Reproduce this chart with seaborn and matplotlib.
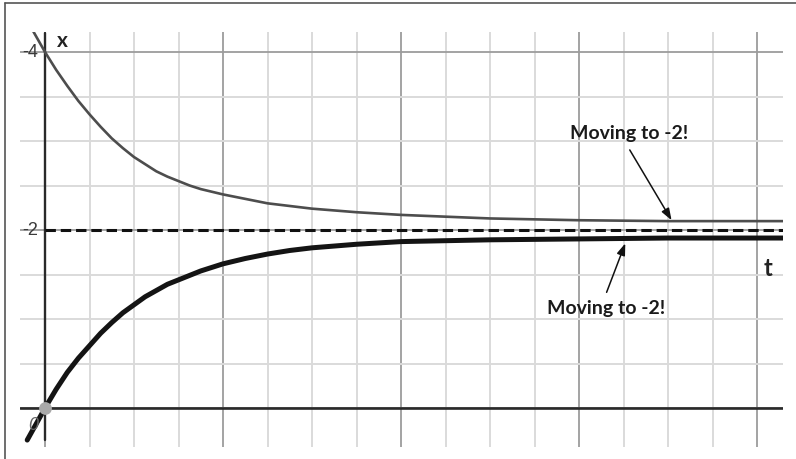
import matplotlib
matplotlib.use("Agg")
import matplotlib.pyplot as plt
from matplotlib.lines import Line2D
import numpy as np
import seaborn as sns

# Solution starting above the equilibrium (x(0) = -4)
t_upper = [-0.25, -0.125, 0.0, 0.125, 0.25, 0.375, 0.5, 0.625, 0.75, 0.875, 1.0,
           1.125, 1.25, 1.375, 1.5, 1.625, 1.75, 1.875, 2.0, 2.25, 2.5, 2.75, 3.0,
           3.25, 3.5, 3.75, 4.0, 4.5, 5.0, 5.5, 6.0, 7.0, 8.4]
x_upper = [-4.45, -4.22, -4.00, -3.80, -3.62, -3.45, -3.30, -3.16, -3.03, -2.92, -2.82,
           -2.74, -2.66, -2.60, -2.55, -2.50, -2.46, -2.43, -2.40, -2.35, -2.30, -2.27, -2.24,
           -2.22, -2.20, -2.185, -2.17, -2.15, -2.13, -2.12, -2.11, -2.10, -2.10]

# Solution starting below the equilibrium (x(0) = 0)
t_lower = [-0.2, -0.1, 0.0, 0.125, 0.25, 0.375, 0.5, 0.625, 0.75, 0.875, 1.0,
           1.125, 1.25, 1.375, 1.5, 1.625, 1.75, 1.875, 2.0, 2.25, 2.5, 2.75, 3.0,
           3.25, 3.5, 3.75, 4.0, 4.5, 5.0, 6.0, 7.0, 8.4]
x_lower = [0.36, 0.18, 0.00, -0.21, -0.40, -0.56, -0.70, -0.84, -0.96, -1.07, -1.16,
           -1.25, -1.32, -1.39, -1.44, -1.49, -1.54, -1.58, -1.62, -1.68, -1.73, -1.77, -1.80,
           -1.82, -1.84, -1.855, -1.87, -1.88, -1.89, -1.90, -1.91, -1.91]

equilibrium = -2.0
y_tick_values = [-4, -2, 0]
y_tick_labels = ["-4", "-2", "0"]
annotation_text = "Moving to -2!"

sns.set_style("white")
plt.rcParams["font.family"] = ["Liberation Sans", "DejaVu Sans"]

fig = plt.figure(figsize=(7.96, 4.59), dpi=100)
ax = fig.add_axes([20 / 796, 1 - 447 / 459, (783 - 20) / 796, (447 - 32) / 459])

t_min, t_max = -0.281, 8.292
ax.set_xlim(t_min, t_max)
ax.set_ylim(0.438, -4.225)

# grid: light minor lines every 0.5, darker major lines every 2
ax.set_xticks(np.arange(0, 9, 2))
ax.set_xticks(np.arange(0, 8.5, 0.5), minor=True)
ax.set_yticks(np.arange(-4, 0.5, 2))
ax.set_yticks(np.arange(-4, 0.5, 0.5), minor=True)
ax.grid(which="minor", color="#dadada", lw=1.4, zorder=0)
ax.grid(which="major", color="#9c9c9c", lw=1.3, zorder=0)
ax.tick_params(which="both", length=0, labelbottom=False, labelleft=False)
for s in ax.spines.values():
    s.set_visible(False)

# axes through the origin
ax.axhline(0, color="#2a2a2a", lw=1.9, zorder=2)
ax.axvline(0, ymin=(447 - 440) / 415, ymax=(447 - 33) / 415, color="#2a2a2a", lw=1.7, zorder=2)

# equilibrium line
ax.axhline(equilibrium, xmin=(0 - t_min) / (t_max - t_min), xmax=1.0,
           color="#111111", lw=2.2, dashes=(3.4, 1.6), zorder=3)

sns.lineplot(x=t_upper, y=x_upper, ax=ax, color="#4d4d4d", lw=1.9, sort=False, zorder=4,
             solid_joinstyle="round")
sns.lineplot(x=t_lower, y=x_lower, ax=ax, color="#141414", lw=3.6, sort=False, zorder=4,
             solid_joinstyle="round")
ax.scatter([t_lower[2]], [x_lower[2]], s=85, color="#a9a9a9", zorder=6, linewidths=0)

# tick labels and axis names
for v, lab in zip(y_tick_values[:2], y_tick_labels[:2]):
    ax.text(-0.08, v, lab, ha="right", va="center", fontsize=13, color="#3a3a3a", zorder=5)
ax.text(-0.13, 0.2, y_tick_labels[2], ha="center", va="center", fontsize=13,
        color="#666666", style="italic", zorder=5)
ax.text(0.2, -4.12, "x", ha="center", va="center", fontsize=15, fontweight="bold",
        family="Lato", color="#222222")
ax.text(8.12, -1.57, "t", ha="center", va="center", fontsize=17, fontweight="bold",
        family="Lato", color="#222222")

# annotations
ax.text(6.56, -3.08, annotation_text, ha="center", va="center", fontsize=14,
        fontweight="bold", family="Lato", color="#1a1a1a", zorder=7)
ax.annotate("", xy=(7.04, -2.11), xytext=(6.57, -2.90),
            arrowprops=dict(arrowstyle="-|>,head_length=0.7,head_width=0.25",
                            color="#111111", lw=1.1, shrinkA=0, shrinkB=0), zorder=7)
ax.text(6.30, -1.12, annotation_text, ha="center", va="center", fontsize=14,
        fontweight="bold", family="Lato", color="#1a1a1a", zorder=7)
ax.annotate("", xy=(6.52, -1.85), xytext=(6.31, -1.30),
            arrowprops=dict(arrowstyle="-|>,head_length=0.7,head_width=0.25",
                            color="#111111", lw=1.1, shrinkA=0, shrinkB=0), zorder=7)

# frame along the left and top edges
fig.add_artist(Line2D([5 / 796, 5 / 796], [0, 1 - 3 / 459], transform=fig.transFigure,
                      color="#555555", lw=1.2))
fig.add_artist(Line2D([5 / 796, 1], [1 - 3 / 459, 1 - 3 / 459], transform=fig.transFigure,
                      color="#555555", lw=1.2))

fig.savefig("out.png", dpi=100)
